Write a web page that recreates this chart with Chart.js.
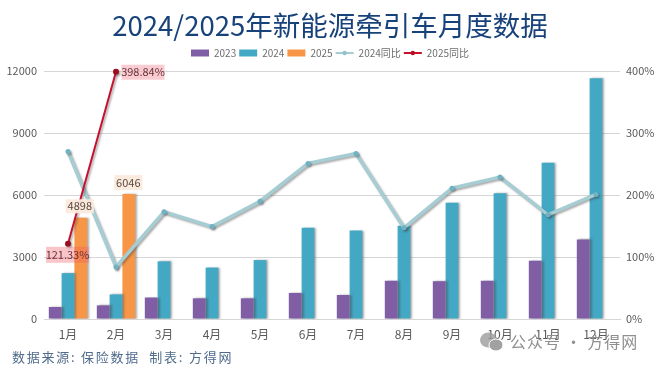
<!DOCTYPE html>
<html><head><meta charset="utf-8">
<script src="https://cdn.jsdelivr.net/npm/chart.js@4"></script>
<style>
html,body{margin:0;padding:0;background:#fff;width:660px;height:368px;overflow:hidden}
#wrap{position:relative;width:660px;height:368px}
canvas{position:absolute;left:0;top:0}
#src{position:absolute;left:12px;top:347px;font:13px "Noto Sans CJK SC","Noto Sans CJK JP",sans-serif;color:#4f6b8a;letter-spacing:1.75px;white-space:pre}
#wm{position:absolute;left:510px;top:329px;font:16px "Noto Sans CJK SC",sans-serif;color:#8f8f8f;letter-spacing:1px;white-space:pre}
#ic{position:absolute;left:479px;top:331px;opacity:.8}
</style></head><body>
<div id="wrap">
<canvas id="c" width="660" height="368"></canvas>
<div id="src">数据来源: 保险数据  制表: 方得网</div>
<svg id="ic" width="26" height="22" viewBox="0 0 26 22"><ellipse cx="9.5" cy="9" rx="8.5" ry="7.5" fill="#9b9b9b"/><ellipse cx="17" cy="14" rx="7" ry="6" fill="#8a8a8a" stroke="#fff" stroke-width="1"/></svg>
<div id="wm">公众号 · 方得网</div>
</div>
<script>
const categories=['1月','2月','3月','4月','5月','6月','7月','8月','9月','10月','11月','12月'];
const sales2023=[580,660,1040,1000,1000,1260,1160,1850,1830,1850,2820,3850];
const sales2024=[2220,1190,2790,2490,2850,4410,4280,4510,5630,6080,7560,11650];
const sales2025=[4898,6046];
const yoy2024=[270,84,173,149,190,251,267,147,211,229,168,201];
const yoy2025=[121.33,398.84];
const leftTicks=[0,3000,6000,9000,12000];
const titleText='2024/2025年新能源牵引车月度数据';

const CJK='"Noto Sans CJK SC","Noto Sans",sans-serif';
const labelDefs=[
 {ds:2,i:0,text:String(sales2025[0]),dx:-1,dy:-11.5,w:28,h:14,bg:'rgba(251,233,220,.95)',fg:'#5a4a40'},
 {ds:2,i:1,text:String(sales2025[1]),dx:-.5,dy:-11.5,w:28,h:15,bg:'rgba(251,233,220,.95)',fg:'#5a4a40'},
 {ds:4,i:0,text:yoy2025[0].toFixed(2)+'%',dx:-.5,dy:11,w:43,h:16,bg:'rgba(240,90,100,.35)',fg:'#6a3038'},
 {ds:4,i:1,text:yoy2025[1].toFixed(2)+'%',dx:27,dy:.5,w:43,h:15,bg:'rgba(245,170,180,.6)',fg:'#6a3038'}
];
const extras={
 id:'extras',
 afterLayout(ch){
  const t=ch.titleBlock;if(t){t.top-=6;t.bottom-=6;}
  const l=ch.legend;if(l){l.top-=3;l.bottom-=3;}
 },
 beforeDraw(ch){const x=ch.ctx;x.save();x.fillStyle='#fff';x.fillRect(0,0,ch.width,ch.height);x.restore();},
 beforeDatasetDraw(ch,a){const x=ch.ctx;x.save();
  x.shadowColor='rgba(70,70,70,.45)';x.shadowBlur=2;x.shadowOffsetX=a.index<3?2:1.5;x.shadowOffsetY=a.index<3?0:1.5;},
 afterDatasetDraw(ch){ch.ctx.restore();},
 afterDatasetsDraw(ch){const x=ch.ctx;x.save();x.font='11px '+CJK;x.textAlign='center';x.textBaseline='middle';
  labelDefs.forEach(l=>{const p=ch.getDatasetMeta(l.ds).data[l.i];const cx=p.x+l.dx,cy=p.y+l.dy;
   x.fillStyle=l.bg;x.fillRect(cx-l.w/2,cy-l.h/2,l.w,l.h);
   x.fillStyle=l.fg;x.fillText(l.text,cx,cy);});
  x.restore();},
 afterDraw(ch){const x=ch.ctx,lg=ch.legend;if(!lg||!lg.legendHitBoxes)return;x.save();
  [3,4].forEach(i=>{const b=lg.legendHitBoxes[i];x.fillStyle=i===3?'#8fc3cf':'#b5101f';x.beginPath();x.arc(b.left+9,b.top+b.height/2,2.2,0,7);x.fill();});
  x.restore();}
};
new Chart(document.getElementById('c'),{
 type:'bar',
 plugins:[extras],
 data:{labels:categories,datasets:[
  {label:'2023',data:sales2023,backgroundColor:'#7f5ea6',yAxisID:'y',order:3},
  {label:'2024',data:sales2024,backgroundColor:'#43a8c4',yAxisID:'y',order:3},
  {label:'2025',data:sales2025,backgroundColor:'#f79646',yAxisID:'y',order:3},
  {type:'line',label:'2024同比',data:yoy2024,borderColor:'#a5cdd3',backgroundColor:'#6fb2c4',borderWidth:3.5,pointRadius:2.5,pointBorderWidth:0,tension:0,yAxisID:'y1',order:2},
  {type:'line',label:'2025同比',data:yoy2025,borderColor:'#c8102e',backgroundColor:'#9c0d1e',borderWidth:2,pointRadius:3,pointBorderWidth:0,tension:0,clip:false,yAxisID:'y1',order:1}
 ]},
 options:{
  responsive:false,animation:false,
  layout:{padding:{top:15,left:0,right:0,bottom:0}},
  datasets:{bar:{categoryPercentage:.8,barPercentage:1}},
  plugins:{
   title:{display:true,text:titleText,color:'#17437a',font:{family:CJK,size:27.5,weight:'normal'},padding:{top:0,bottom:0}},
   legend:{display:true,position:'top',labels:{
     color:'#6e6e6e',font:{family:CJK,size:10},boxWidth:18,boxHeight:7,padding:3,
     usePointStyle:true,pointStyleWidth:18,
     generateLabels(ch){return ch.data.datasets.map((d,i)=>({text:d.label,datasetIndex:i,
       fillStyle:i<3?d.backgroundColor:d.borderColor,strokeStyle:i<3?d.backgroundColor:d.borderColor,
       lineWidth:i<3?0:2,pointStyle:i<3?'rect':'line',fontColor:'#6e6e6e'}));}
   }},
   tooltip:{enabled:false}
  },
  scales:{
   x:{grid:{display:false},border:{color:'#d6d6d6'},ticks:{color:'#595959',font:{family:CJK,size:12},padding:0,maxRotation:0,autoSkip:false},afterFit(s){s.height=49;}},
   y:{position:'left',min:0,max:12000,afterBuildTicks(s){s.ticks=leftTicks.map(v=>({value:v}));},
      grid:{color:'#d6d6d6',drawTicks:false},border:{display:false},
      ticks:{color:'#595959',font:{family:CJK,size:11},padding:7,callback:v=>String(v)},afterFit(s){s.width=44;}},
   y1:{position:'right',min:0,max:400,grid:{display:false,drawTicks:false},border:{display:false},
      ticks:{stepSize:100,color:'#595959',font:{family:CJK,size:11},padding:6,callback:v=>v+'%'},afterFit(s){s.width=40;}}
  }
 }
});
</script>
</body></html>
